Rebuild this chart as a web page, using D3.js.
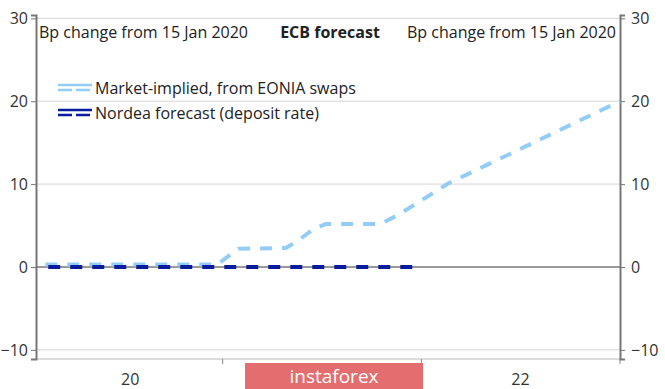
<!DOCTYPE html>
<html lang="en">
<head>
  <meta charset="UTF-8" />
  <script src="https://d3js.org/d3.v7.min.js"></script>
  <style>
    body { margin: 0; background: #fff; }
    text { font-family: "Open Sans", "Noto Sans", sans-serif; }
  </style>
</head>
<body>
  <svg id="chart" width="665" height="389"></svg>
  <script>
    // series values (bp change from 15 Jan 2020)
    const marketDates = ["2020-02-10", "2020-12-22", "2021-01-30", "2021-04-27", "2021-05-20", "2021-06-15",
      "2021-07-10", "2021-10-18", "2021-11-20", "2022-02-20", "2023-01-01"];
    const marketValues = [0.3, 0.3, 2.2, 2.3, 3.2, 4.5, 5.2, 5.2, 6.3, 10.1, 20];
    const nordeaDates = ["2020-02-10", "2022-01-02"];
    const nordeaValues = [0, 0];
    const yTicks = [-10, 0, 10, 20, 30];
    const xLabels = [["2020-07-15", "20"], ["2022-07-02", "22"]];
    const xTicks = ["2021-01-01", "2022-01-01", "2023-01-01"];

    const parse = d3.timeParse("%Y-%m-%d");
    const svg = d3.select("#chart");
    const plotLeft = 36, plotRight = 620, plotTop = 15, plotBottom = 359;

    const x = d3.scaleTime()
      .domain([parse("2020-01-24"), parse("2023-01-01")])
      .range([plotLeft, plotRight]);
    const y = d3.scaleLinear().domain([-11.1, 30.4]).range([plotBottom, plotTop]);

    // gridlines
    svg.append("g").selectAll("line").data(yTicks.filter(d => d !== 0)).join("line")
      .attr("x1", plotLeft).attr("x2", plotRight)
      .attr("y1", d => y(d)).attr("y2", d => y(d))
      .attr("stroke", "#d6d6d6").attr("stroke-width", 1);

    // bottom axis line
    svg.append("line").attr("x1", plotLeft).attr("x2", plotRight)
      .attr("y1", plotBottom).attr("y2", plotBottom)
      .attr("stroke", "#d0d0d0").attr("stroke-width", 1.5);
    svg.append("g").selectAll("line").data(xTicks).join("line")
      .attr("x1", d => x(parse(d))).attr("x2", d => x(parse(d)))
      .attr("y1", plotBottom).attr("y2", plotBottom + 5)
      .attr("stroke", "#888").attr("stroke-width", 1);
    svg.append("g").selectAll("text").data(xLabels).join("text")
      .attr("x", d => x(parse(d[0]))).attr("y", 385)
      .attr("text-anchor", "middle").attr("font-size", 16).attr("fill", "#333")
      .text(d => d[1]);

    // zero line
    svg.append("line").attr("x1", plotLeft).attr("x2", plotRight)
      .attr("y1", y(0)).attr("y2", y(0))
      .attr("stroke", "#777").attr("stroke-width", 1.5);

    // y axes
    const leftAxis = d3.axisLeft(y).tickValues(yTicks).tickSize(5).tickPadding(3);
    const rightAxis = d3.axisRight(y).tickValues(yTicks).tickSize(5).tickPadding(6);
    [[leftAxis, plotLeft], [rightAxis, plotRight]].forEach(([ax, pos]) => {
      const g = svg.append("g").attr("transform", `translate(${pos},0)`).call(ax);
      g.select(".domain").attr("stroke", "#777").attr("stroke-width", 2);
      g.selectAll(".tick line").attr("stroke", "#777");
      g.selectAll(".tick text").attr("font-size", 16).attr("fill", "#333")
        .attr("font-family", "'Open Sans', 'Noto Sans', sans-serif");
    });

    // lines
    const line = d3.line().x(d => x(d[0])).y(d => y(d[1]));
    const market = marketDates.map((d, i) => [parse(d), marketValues[i]]);
    const nordea = nordeaDates.map((d, i) => [parse(d), nordeaValues[i]]);
    svg.append("path").datum(market).attr("d", line)
      .attr("fill", "none").attr("stroke", "#93cdf6").attr("stroke-width", 4)
      .attr("stroke-dasharray", "12,10").attr("stroke-linejoin", "round");
    svg.append("path").datum(nordea).attr("d", line)
      .attr("fill", "none").attr("stroke", "#0a1c9e").attr("stroke-width", 4)
      .attr("stroke-dasharray", "12,10").attr("stroke-dashoffset", -3);

    // header
    svg.append("text").attr("x", 39).attr("y", 38).attr("font-size", 16).attr("fill", "#222")
      .text("Bp change from 15 Jan 2020");
    svg.append("text").attr("x", 330).attr("y", 38).attr("font-size", 16).attr("fill", "#222")
      .attr("font-weight", "bold").attr("text-anchor", "middle").text("ECB forecast");
    svg.append("text").attr("x", 616).attr("y", 38).attr("font-size", 16).attr("fill", "#222")
      .attr("text-anchor", "end").text("Bp change from 15 Jan 2020");

    // legend
    const legend = [["Market-implied, from EONIA swaps", "#93cdf6", 88], ["Nordea forecast (deposit rate)", "#0a1c9e", 113]];
    legend.forEach(([label, color, ly]) => {
      svg.append("line").attr("x1", 58).attr("x2", 92).attr("y1", ly - 3).attr("y2", ly - 3)
        .attr("stroke", color).attr("stroke-width", 2.5);
      svg.append("line").attr("x1", 58).attr("x2", 92).attr("y1", ly + 2).attr("y2", ly + 2)
        .attr("stroke", color).attr("stroke-width", 2.5).attr("stroke-dasharray", "14,4");
      svg.append("text").attr("x", 95).attr("y", ly + 5.5).attr("font-size", 16).attr("fill", "#222")
        .text(label);
    });

    // watermark
    svg.append("rect").attr("x", 245).attr("y", 363).attr("width", 178).attr("height", 26)
      .attr("fill", "#e36d6f");
    svg.append("text").attr("x", 334).attr("y", 383).attr("text-anchor", "middle")
      .attr("font-size", 19).attr("fill", "#fff").text("instaforex");
  </script>
</body>
</html>
